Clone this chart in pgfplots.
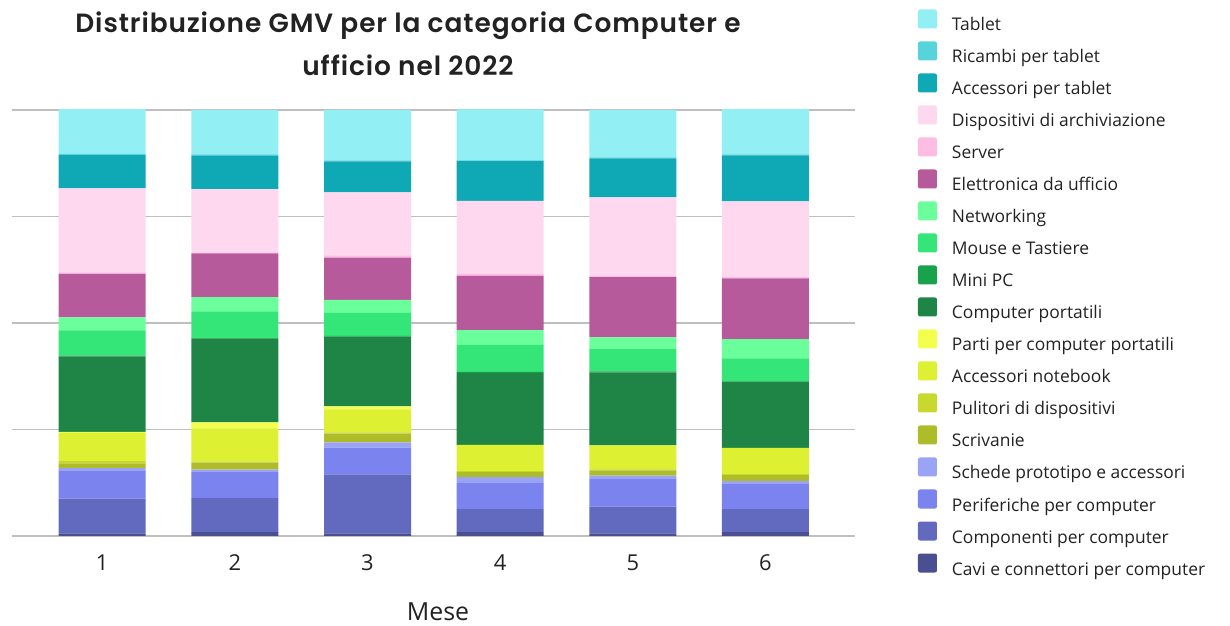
\documentclass[border=0pt]{standalone}
\usepackage{pgfplots}
\pgfplotsset{compat=1.18}
\usepackage{pgfplotstable}
\usepackage{fontspec}
\setmainfont{Open Sans}
\newfontfamily\titlefont{Poppins}[BoldFont={* SemiBold}, LetterSpace=3.5]
\definecolor{cTab}{HTML}{92F0F5}
\definecolor{cRic}{HTML}{57D3DC}
\definecolor{cAcc}{HTML}{0FA8B5}
\definecolor{cDis}{HTML}{FDD8EE}
\definecolor{cSer}{HTML}{FDBDE3}
\definecolor{cEle}{HTML}{B65A9C}
\definecolor{cNet}{HTML}{6AFF9A}
\definecolor{cMou}{HTML}{34E577}
\definecolor{cMin}{HTML}{17A24B}
\definecolor{cPor}{HTML}{1E8546}
\definecolor{cPar}{HTML}{F3FF4D}
\definecolor{cAcn}{HTML}{DDF032}
\definecolor{cPul}{HTML}{C8D82E}
\definecolor{cScr}{HTML}{AFBC29}
\definecolor{cSch}{HTML}{9BA3F5}
\definecolor{cPer}{HTML}{7B83EE}
\definecolor{cCom}{HTML}{616ABF}
\definecolor{cCav}{HTML}{4A4F91}
\definecolor{txt}{HTML}{222222}
\pgfplotstableread{
x cav com per sch scr pul acn par por min mou net ele ser dis acc ric tab
0 0.6 8.2 6.6 0.55 1.1 0.5 6.6 0.3 17.7 0.2 5.9 3.05 10.2 0.4 19.7 7.8 0.3 10.6
1 0.9 8.0 6.1 0.6 1.6 0.25 7.8 1.4 19.7 0.1 6.3 3.3 10.3 0.25 14.8 7.8 0.4 10.4
2 0.6 13.85 6.3 1.2 2.1 0.25 5.4 0.7 16.4 0.2 5.4 3.05 9.9 0.5 14.8 7.3 0.25 11.8
3 0.9 5.4 6.1 1.4 1.2 0.25 6.1 0.05 16.9 0.25 6.3 3.5 12.7 0.5 17.1 9.4 0.1 12.0
4 0.6 6.3 6.6 0.7 1.2 0.25 5.6 0.05 17.1 0.25 5.2 2.8 14.1 0.25 18.5 9.15 0.25 11.1
5 0.9 5.4 5.9 0.7 1.4 0.25 6.1 0.05 15.5 0.1 5.4 4.5 14.3 0.25 17.8 10.8 0.25 10.6
}\datatable
\begin{document}
\begin{tikzpicture}[x=1bp,y=1bp]
\useasboundingbox (0,0) rectangle (1230,626);
\begin{axis}[
  at={(12bp,90bp)}, anchor=south west,
  width=843bp, height=426bp, scale only axis,
  ybar stacked, bar width=87bp,
  xmin=-0.68, xmax=5.675, ymin=0, ymax=100,
  xtick={0,1,2,3,4,5}, xticklabels={1,2,3,4,5,6},
  ytick={0,25,50,75,100}, yticklabels={},
  ymajorgrids, major grid style={color=black!25, line width=1.6bp},
  axis line style={draw=none}, major tick length=0pt,
  xticklabel style={anchor=center, yshift=-27bp, font=\fontsize{22}{26}\selectfont, text=txt},
  reverse legend,
  legend style={draw=none, fill=none, inner sep=0pt, outer sep=0pt,
    at={(1.0747,1.2359)}, anchor=north west, column sep=15bp, row sep=7bp,
    font=\fontsize{17.5}{20}\selectfont, text=txt,
    nodes={inner sep=0pt, text height=15.5bp, text depth=3.5bp}},
  legend cell align=left,
  legend image code/.code={\path[#1, rounded corners=2bp] (0bp,-3.5bp) rectangle (19bp,15.5bp);},
]
\addplot[fill=cCav, draw=none] table[x=x,y=cav]{\datatable};
\addplot[fill=cCom, draw=none] table[x=x,y=com]{\datatable};
\addplot[fill=cPer, draw=none] table[x=x,y=per]{\datatable};
\addplot[fill=cSch, draw=none] table[x=x,y=sch]{\datatable};
\addplot[fill=cScr, draw=none] table[x=x,y=scr]{\datatable};
\addplot[fill=cPul, draw=none] table[x=x,y=pul]{\datatable};
\addplot[fill=cAcn, draw=none] table[x=x,y=acn]{\datatable};
\addplot[fill=cPar, draw=none] table[x=x,y=par]{\datatable};
\addplot[fill=cPor, draw=none] table[x=x,y=por]{\datatable};
\addplot[fill=cMin, draw=none] table[x=x,y=min]{\datatable};
\addplot[fill=cMou, draw=none] table[x=x,y=mou]{\datatable};
\addplot[fill=cNet, draw=none] table[x=x,y=net]{\datatable};
\addplot[fill=cEle, draw=none] table[x=x,y=ele]{\datatable};
\addplot[fill=cSer, draw=none] table[x=x,y=ser]{\datatable};
\addplot[fill=cDis, draw=none] table[x=x,y=dis]{\datatable};
\addplot[fill=cAcc, draw=none] table[x=x,y=acc]{\datatable};
\addplot[fill=cRic, draw=none] table[x=x,y=ric]{\datatable};
\addplot[fill=cTab, draw=none] table[x=x,y=tab]{\datatable};
\legend{Cavi e connettori per computer, Componenti per computer, Periferiche per computer, Schede prototipo e accessori, Scrivanie, Pulitori di dispositivi, Accessori notebook, Parti per computer portatili, Computer portatili, Mini PC, Mouse e Tastiere, Networking, Elettronica da ufficio, Server, Dispositivi di archiviazione, Accessori per tablet, Ricambi per tablet, Tablet}
\end{axis}
\node[align=center, font=\titlefont\fontsize{26.5}{43}\selectfont\bfseries, text=txt] at (408,582) {Distribuzione GMV per la categoria Computer e\\ufficio nel 2022};
\node[inner sep=0pt, font=\fontsize{25}{28}\selectfont, text=txt] at (438,14) {Mese};
\end{tikzpicture}
\end{document}
